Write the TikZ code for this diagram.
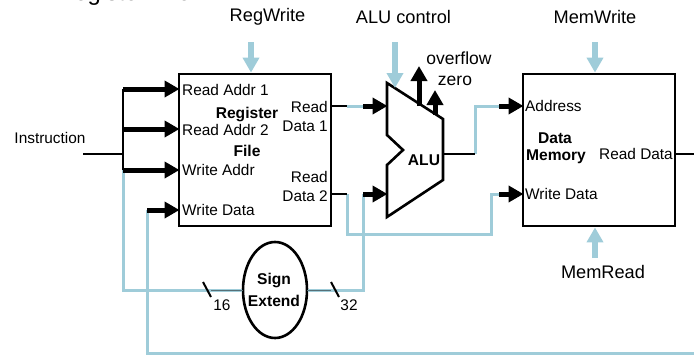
\documentclass[tikz,border=0pt]{standalone}
\usepackage{fontspec}
\setmainfont{Liberation Sans}
\usetikzlibrary{arrows.meta,shapes.geometric}
\definecolor{ctl}{HTML}{9FCCD9}
\tikzset{
  txt/.style={inner sep=0pt,font=\fontsize{15.4}{19}\selectfont,align=center},
  bld/.style={inner sep=0pt,font=\fontsize{15.6}{18}\bfseries\selectfont,align=center},
  big/.style={inner sep=0pt,font=\fontsize{18.2}{20}\selectfont},
  unitbox/.style={draw=black,line width=2.8pt,minimum width=152pt,minimum height=152pt,inner sep=0pt},
  wire/.style={draw=black,line width=2.4pt},
  ctlwire/.style={draw=ctl,line width=3pt},
  bus/.style={draw=black,line width=5pt,-{Triangle[length=15pt,width=16pt]},shorten >=-0.5pt},
  ctlarrow/.style={draw=ctl,line width=5.5pt,-{Triangle[length=15pt,width=16pt]}},
  tick/.style={draw=black,line width=2pt},
  x=1pt,y=-1pt
}
\begin{document}
\begin{tikzpicture}
\useasboundingbox (0,0) rectangle (694,356);
\clip (0,0) rectangle (694,356);
% units
\node[unitbox] (reg) at (255,150) {};
\node[unitbox] (mem) at (599,150) {};
\node[draw=black,line width=2.6pt,ellipse,minimum width=64pt,minimum height=96pt,inner sep=0pt] (sign) at (275,290) {};
\draw[line width=2.6pt,line join=miter] (387,83) -- (443,119) -- (443,180) -- (387,217) -- (387,165) -- (403,150) -- (387,135) -- cycle;
\coordinate (alutop) at (395,88);
\coordinate (aluout) at (443,154);
\coordinate (alua) at (387,106);
\coordinate (alub) at (387,194);
% junctions
\coordinate (instr) at (83,154);
\coordinate (busj) at (123,154);
\coordinate (bus1) at (123,89);
\coordinate (bus2) at (123,129);
\coordinate (bus3) at (123,170);
\coordinate (ra1) at (179,89);
\coordinate (ra2) at (179,129);
\coordinate (wa) at (179,170);
\coordinate (wd) at (179,210);
\coordinate (wdfrom) at (147,210);
\coordinate (rd1) at (331,106);
\coordinate (rd1a) at (347,106);
\coordinate (rd1b) at (363,106);
\coordinate (rd2) at (331,194);
\coordinate (rd2a) at (347,194);
\coordinate (sbus) at (363,194);
\coordinate (aluj) at (475,154);
\coordinate (addr) at (523,106);
\coordinate (addrb) at (499,106);
\coordinate (mwd) at (523,194);
\coordinate (mwdb) at (499,194);
\coordinate (mrd) at (675,154);
\coordinate (outr) at (694,154);
\coordinate (wb) at (694,353);
% control wires (blue)
\draw[ctlwire,line join=miter] (bus3) |- (sign.west);
\draw[ctlwire,line join=miter] (sign.east) -| (sbus);
\draw[ctlwire,line join=miter] (rd2a) -- (347,234) -- (491,234) -- (491,194) -- (mwdb);
\draw[ctlwire] (rd1a) -- (rd1b);
\draw[ctlwire,line join=miter] (aluj) -- (475,106) -- (addrb);
\draw[ctlwire,line join=miter] (wb) -| (wdfrom);
% black wires
\draw[wire] (instr) -- (busj);
\draw[line width=2.8pt,black] (bus1) -- (bus3);
\draw[bus] (bus1) -- (ra1);
\draw[bus] (bus2) -- (ra2);
\draw[bus] (bus3) -- (wa);
\draw[bus] (wdfrom) -- (wd);
\draw[wire] (rd1) -- (rd1a);
\draw[bus] (rd1b) -- (alua);
\draw[wire] (rd2) -- (rd2a);
\draw[bus] (sbus) -- (alub);
\draw[wire] (aluout) -- (aluj);
\draw[bus] (addrb) -- (addr);
\draw[bus] (mwdb) -- (mwd);
\draw[wire] (mrd) -- (outr);
\draw[line width=5pt,-{Triangle[length=15pt,width=16pt]}] (419,106) -- (419,66);
\draw[line width=5pt,-{Triangle[length=15pt,width=16pt]}] (435,115) -- (435,90);
% control arrows
\coordinate (cw) at (251,42);
\coordinate (ca) at (395,42);
\coordinate (cm) at (595,42);
\coordinate (cr) at (595,258);
\draw[ctlarrow] (cw) -- (reg.north -| cw);
\draw[ctlarrow] (ca) -- (alutop);
\draw[ctlarrow] (cm) -- (mem.north -| cm);
\draw[ctlarrow] (cr) -- (mem.south -| cr);
% ticks
\draw[tick] (203,282) -- (211,297);
\draw[tick] (331,282) -- (339,297);
\draw[draw=black!45!ctl,line width=1pt] (211,290) -- (243,290);
\draw[draw=black!45!ctl,line width=1pt] (307,290) -- (331,290);
% labels
\node[inner sep=0pt,font=\fontsize{23.8}{26}\selectfont,anchor=base west] (title) at (57,0.5) {Register File:};
\node[big] (lrw) at (267.5,17) {RegWrite};
\node[big] (lac) at (403.5,17) {ALU control};
\node[big] (lmw) at (595,17) {MemWrite};
\node[big] (lmr) at (603,272) {MemRead};
\node[txt] (lin) at (50,138) {Instruction};
\node[txt,anchor=west] (t1) at (182,89.5) {Read Addr 1};
\node[txt,anchor=west] (t2) at (182,129.5) {Read Addr 2};
\node[txt,anchor=west] (t3) at (182,170) {Write Addr};
\node[txt,anchor=west] (t4) at (182,210) {Write Data};
\node[bld] (tr) at (247,114) {Register};
\node[bld] (tf) at (247,151) {File};
\node[txt,align=right,anchor=east] (t5) at (328,116) {Read\\Data 1};
\node[txt,align=right,anchor=east] (t6) at (328,186) {Read\\Data 2};
\node[bld] (ta) at (424,160) {ALU};
\node[big,font=\fontsize{17.5}{20}\selectfont] (tov) at (459,58) {overflow};
\node[big,font=\fontsize{17.5}{20}\selectfont] (tze) at (455,81) {zero};
\node[txt,anchor=west] (t7) at (525,106) {Address};
\node[txt,anchor=west] (t8) at (525,194) {Write Data};
\node[bld] (td) at (555,138) {Data};
\node[bld] (tm) at (556,157) {Memory};
\node[txt,anchor=east] (t9) at (673,154) {Read Data};
\node[bld] (ts) at (274,280) {Sign};
\node[bld] (te) at (274,301) {Extend};
\node[txt] (n16) at (222,305) {16};
\node[txt] (n32) at (349,305) {32};
\end{tikzpicture}
\end{document}
